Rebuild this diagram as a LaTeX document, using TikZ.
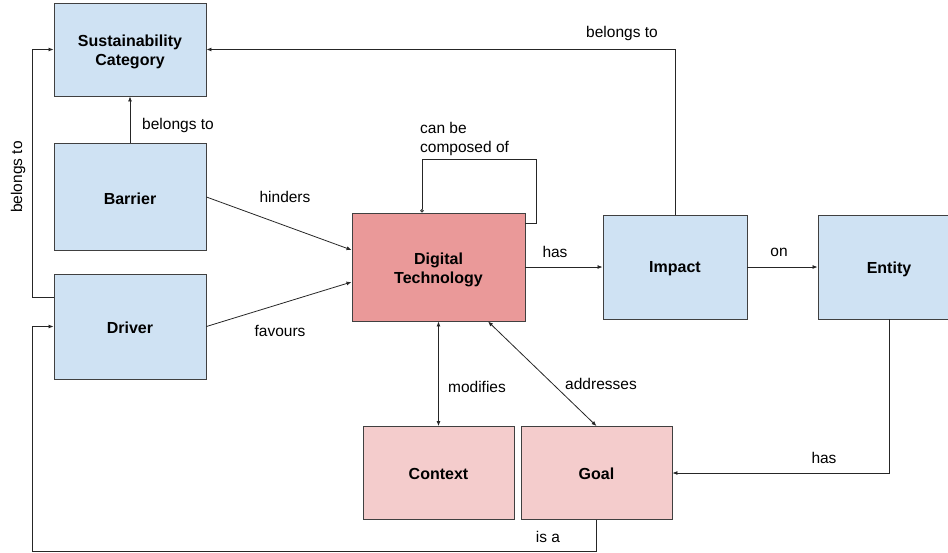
\documentclass[tikz,border=0pt]{standalone}
\usepackage{fontspec}
\setmainfont{Liberation Sans}
\usetikzlibrary{arrows.meta,calc}
\begin{document}
\begin{tikzpicture}[x=1pt,y=-1pt,
  box/.style={draw=black!75,line width=0.9pt,minimum width=#1,inner sep=0pt},
  boxtxt/.style={font=\fontsize{16}{19}\selectfont\bfseries,align=center,inner sep=0pt},
  blue/.style={fill=bluefill},
  redbox/.style={fill=redfill},
  pinkbox/.style={fill=pinkfill},
  conn/.style={line width=0.8pt,draw=black!85,-{Latex[length=5pt,width=4pt]}},
  both/.style={line width=0.8pt,draw=black!85,{Latex[length=5pt,width=4pt]}-{Latex[length=5pt,width=4pt]}},
  lbl/.style={font=\fontsize{15.5}{19}\selectfont,inner sep=0pt}]
\definecolor{bluefill}{HTML}{CFE2F3}
\definecolor{redfill}{HTML}{EA9999}
\definecolor{pinkfill}{HTML}{F4CCCC}
\useasboundingbox (0,0) rectangle (948,552);
% boxes
\node[box=152pt,blue,minimum height=93pt] (sus) at (130,49.5) {};
\node[box=152pt,blue,minimum height=107pt] (bar) at (130,196.5) {};
\node[box=152pt,blue,minimum height=105pt] (drv) at (130,326.5) {};
\node[box=173pt,redbox,minimum height=108pt] (dt) at (438.5,267) {};
\node[box=144pt,blue,minimum height=104pt] (imp) at (675,267) {};
\node[box=142pt,blue,minimum height=104pt] (ent) at (889,267) {};
\node[box=151pt,pinkbox,minimum height=93pt] (ctx) at (438.5,473) {};
\node[box=151pt,pinkbox,minimum height=93pt] (goal) at (596.5,473) {};
% box texts
\node[boxtxt] (sust) at ([yshift=-2pt]sus.center) {Sustainability\\Category};
\node[boxtxt] (bart) at ([yshift=-2pt]bar.center) {Barrier};
\node[boxtxt] (drvt) at ([yshift=-1pt]drv.center) {Driver};
\node[boxtxt] (dtt) at ([yshift=-3pt]dt.center) {Digital\\Technology};
\node[boxtxt] (impt) at ([yshift=-2pt]imp.center) {Impact};
\node[boxtxt] (entt) at ([yshift=-2pt]ent.center) {Entity};
\node[boxtxt] (ctxt) at ([yshift=-1pt]ctx.center) {Context};
\node[boxtxt] (goalt) at ([yshift=-1pt]goal.center) {Goal};
% connectors
\draw[conn] (bar.north) -- (sus.south);
\draw[conn] ([yshift=29.5pt]drv.west) -- ++(-21,0) |- (sus.west);
\draw[conn] (imp.north) |- (sus.east);
\draw[conn] ([yshift=-0.5pt]bar.east) -- ([yshift=17pt]dt.west);
\draw[conn] (drv.east) -- ([yshift=-15pt]dt.west);
\draw[line width=0.8pt,draw=black!85,-{Circle[open,length=3.5pt]}] ([yshift=44pt]dt.east) -- ++(11,0) -- ++(0,-64) -| ([xshift=-16.5pt]dt.north);
\draw[conn] (dt.east) -- (imp.west);
\draw[conn] (imp.east) -- (ent.west);
\draw[conn] (ent.south) |- (goal.east);
\draw[both] (dt.south) -- (ctx.north);
\draw[both] ([xshift=49.5pt]dt.south) -- (goal.north);
\draw[conn] (goal.south) -- ++(0,31) -| ([xshift=-21pt]drv.west) -- (drv.west);
% labels
\node[lbl] (l1) at (178,125) {belongs to};
\node[lbl,rotate=90] (l2) at (18,177) {belongs to};
\node[lbl] (l3) at (622,33) {belongs to};
\node[lbl] (l4) at (285,197) {hinders};
\node[lbl] (l5) at (280,331) {favours};
\node[lbl,align=left,anchor=west] (l6) at (420,138.5) {can be\\composed of};
\node[lbl] (l7) at (555,252) {has};
\node[lbl] (l8) at (779,252) {on};
\node[lbl] (l9) at (477,387) {modifies};
\node[lbl] (l10) at (601,384) {addresses};
\node[lbl] (l11) at (824,458) {has};
\node[lbl] (l12) at (548,537) {is a};
\end{tikzpicture}
\end{document}
